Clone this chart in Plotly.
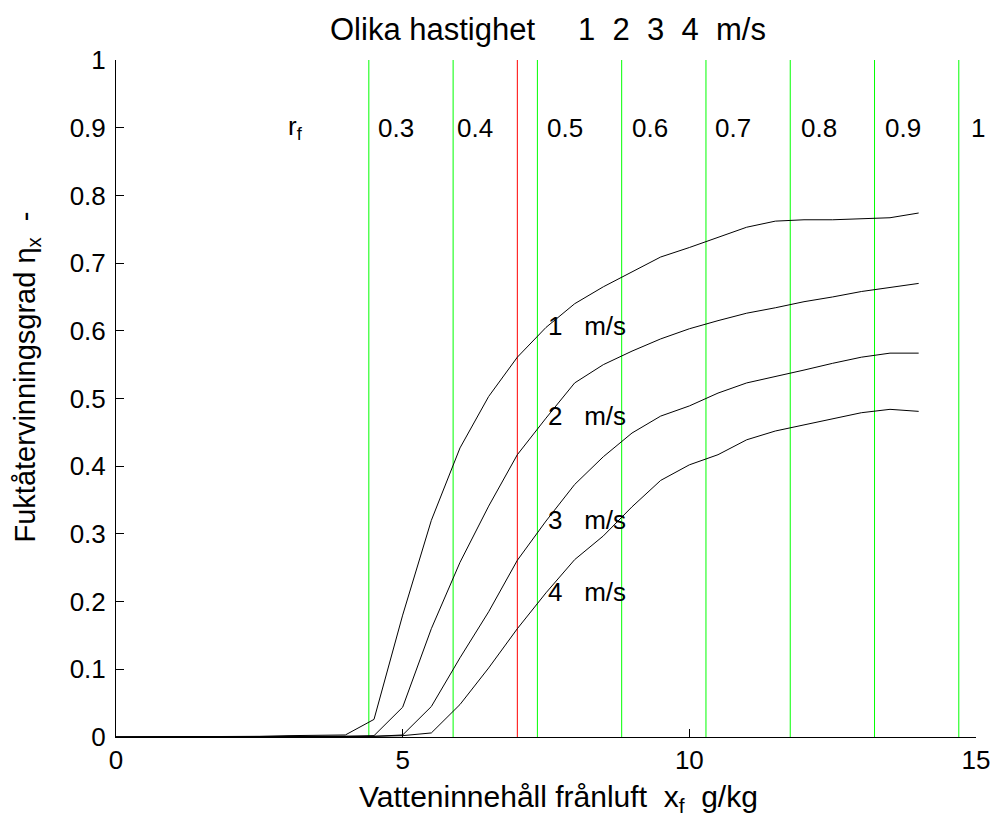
import plotly.graph_objects as go

# ---------------- data ----------------
x_f = [0, 0.5, 1, 1.5, 2, 2.5, 3, 3.5, 4, 4.5, 5, 5.5, 6, 6.5, 7, 7.5, 8,
       8.5, 9, 9.5, 10, 10.5, 11, 11.5, 12, 12.5, 13, 13.5, 14]

eta_1ms = [0, 0, 0, 0.001, 0.001, 0.001, 0.002, 0.002, 0.003, 0.026, 0.18,
           0.32, 0.427, 0.503, 0.561, 0.605, 0.640, 0.665, 0.687, 0.709,
           0.723, 0.738, 0.753, 0.762, 0.764, 0.764, 0.765, 0.767, 0.774]
eta_2ms = [0, 0, 0, 0, 0.001, 0.001, 0.001, 0.001, 0.001, 0.002, 0.044,
           0.16, 0.258, 0.341, 0.417, 0.471, 0.523, 0.550, 0.570, 0.588,
           0.603, 0.615, 0.626, 0.634, 0.643, 0.650, 0.658, 0.664, 0.670]
eta_3ms = [0, 0, 0, 0, 0, 0.001, 0.001, 0.001, 0.001, 0.001, 0.003,
           0.045, 0.117, 0.185, 0.261, 0.319, 0.373, 0.414, 0.449, 0.474,
           0.489, 0.508, 0.523, 0.532, 0.542, 0.552, 0.561, 0.567, 0.567]
eta_4ms = [0, 0, 0, 0, 0, 0, 0.001, 0.001, 0.001, 0.001, 0.002,
           0.006, 0.048, 0.102, 0.160, 0.213, 0.262, 0.297, 0.340, 0.379,
           0.402, 0.417, 0.439, 0.452, 0.461, 0.470, 0.479, 0.484, 0.481]

speeds = [1, 2, 3, 4]
eta_series = [eta_1ms, eta_2ms, eta_3ms, eta_4ms]

rf_values = ["0.3", "0.4", "0.5", "0.6", "0.7", "0.8", "0.9", "1"]
rf_line_x = [4.41, 5.88, 7.35, 8.82, 10.29, 11.76, 13.23, 14.7]
design_x = 7.0

x_ticks = [0, 5, 10, 15]
y_ticks = [0, 0.1, 0.2, 0.3, 0.4, 0.5, 0.6, 0.7, 0.8, 0.9, 1]
y_ticktext = ["0", "0.1", "0.2", "0.3", "0.4", "0.5", "0.6", "0.7", "0.8", "0.9", "1"]

# ---------------- layout constants ----------------
FONT = "Arial, Liberation Sans, sans-serif"
rf_label_x = [4.53, 5.91, 7.49, 8.97, 10.42, 11.91, 13.37, 14.88]
rf_sym_x = 2.96
rf_label_y = 0.9
speed_label_x = 7.5
speed_label_y = [0.607, 0.474, 0.321, 0.214]
NB = "\u00a0"

# page geometry (page has an 8px body margin)
BODY = 8
AX_L, AX_R, AX_T, AX_B = 116, 983, 60, 737.5   # axes box in page pixels
W_PX = AX_R - AX_L
H_PX = AX_B - AX_T


def px_x(px):
    return (px - AX_L) / W_PX


def px_y(py):
    return (AX_B - py) / H_PX


fig = go.Figure()

# vertical r_f lines
for xv in rf_line_x:
    fig.add_trace(go.Scatter(x=[xv, xv], y=[0, 1], mode="lines",
                             line=dict(color="#00ff00", width=1),
                             hoverinfo="skip", showlegend=False))
fig.add_trace(go.Scatter(x=[design_x, design_x], y=[0, 1], mode="lines",
                         line=dict(color="#ff0000", width=1),
                         hoverinfo="skip", showlegend=False))

# efficiency curves
for s, eta in zip(speeds, eta_series):
    fig.add_trace(go.Scatter(x=x_f, y=eta, mode="lines",
                             line=dict(color="black", width=1),
                             name=f"{s} m/s", showlegend=False))

annotations = []
annotations.append(dict(x=rf_sym_x, y=rf_label_y, xref="x", yref="y",
                        text="r<sub>f</sub>", showarrow=False,
                        xanchor="left", yanchor="middle",
                        font=dict(family=FONT, size=26, color="black")))
for lx, txt in zip(rf_label_x, rf_values):
    annotations.append(dict(x=lx, y=rf_label_y, xref="x", yref="y",
                            text=txt, showarrow=False,
                            xanchor="left", yanchor="middle",
                            font=dict(family=FONT, size=26, color="black")))
for s, ly in zip(speeds, speed_label_y):
    annotations.append(dict(x=speed_label_x, y=ly, xref="x", yref="y",
                            text=f"{s}{NB*3}m/s", showarrow=False,
                            xanchor="left", yanchor="middle",
                            font=dict(family=FONT, size=26, color="black")))

# title
title_txt = "Olika hastighet" + NB * 5 + (NB * 2).join(str(s) for s in speeds) + NB * 2 + "m/s"
annotations.append(dict(x=px_x(551.7), y=px_y(29), xref="paper", yref="paper",
                        text=title_txt, showarrow=False,
                        xanchor="center", yanchor="middle",
                        font=dict(family=FONT, size=31, color="black")))
# x label
annotations.append(dict(x=px_x(562), y=px_y(799), xref="paper", yref="paper",
                        text="Vatteninnehåll frånluft" + NB * 2 + "x<sub>f</sub>" + NB * 2 + "g/kg",
                        showarrow=False, xanchor="center", yanchor="middle",
                        font=dict(family=FONT, size=30, color="black")))
# y label
annotations.append(dict(x=px_x(26), y=px_y(377), xref="paper", yref="paper",
                        text="Fuktåtervinningsgrad η<sub>x</sub>" + NB * 2 + "-",
                        textangle=-90, showarrow=False,
                        xanchor="center", yanchor="middle",
                        font=dict(family=FONT, size=29, color="black")))

fig.update_layout(
    width=1002 - BODY, height=821 - BODY,
    margin=dict(l=AX_L - BODY, r=(1002 - BODY) - (AX_R - BODY), t=AX_T - BODY,
                b=(821 - BODY) - (AX_B - BODY), pad=0),
    paper_bgcolor="white", plot_bgcolor="white",
    font=dict(family=FONT, size=26, color="black"),
    annotations=annotations,
    showlegend=False,
)
fig.update_xaxes(range=[0, 15], tickvals=x_ticks, ticks="inside", ticklen=8,
                 tickcolor="black", showline=True, linecolor="black", linewidth=1,
                 showgrid=False, zeroline=False, mirror=False,
                 tickfont=dict(family=FONT, size=26, color="black"),
                 ticklabelstandoff=0)
fig.update_yaxes(range=[0, 1], tickvals=y_ticks, ticktext=y_ticktext,
                 ticks="inside", ticklen=8,
                 tickcolor="black", showline=True, linecolor="black", linewidth=1,
                 showgrid=False, zeroline=False, mirror=False,
                 tickfont=dict(family=FONT, size=26, color="black"),
                 ticklabelstandoff=4)

fig.write_html("out.html")
